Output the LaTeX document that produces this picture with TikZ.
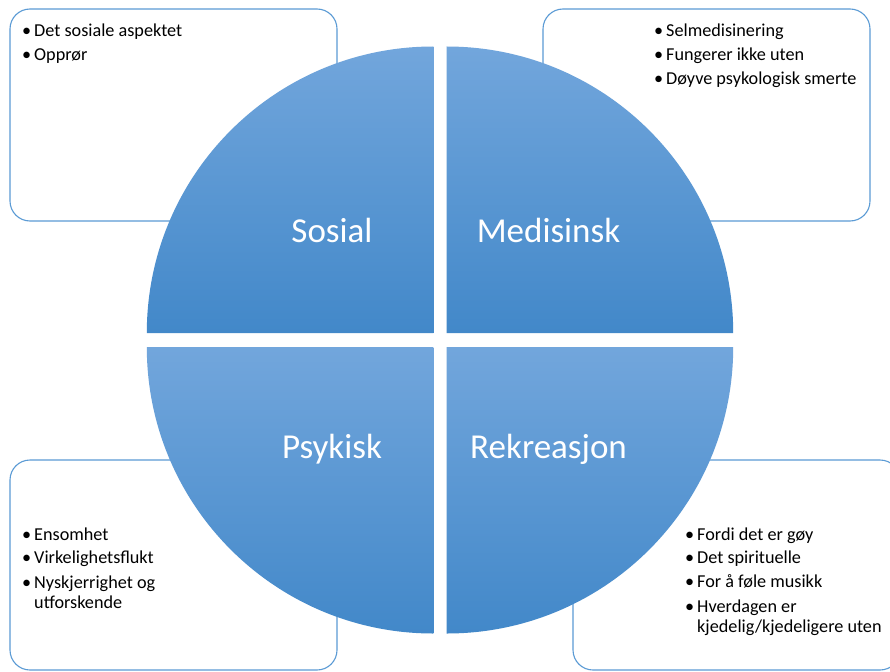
\documentclass[tikz,border=0pt]{standalone}
\usepackage{fontspec}
\setmainfont{Carlito}
\definecolor{qtop}{RGB}{114,166,220}
\definecolor{qmid}{RGB}{87,155,216}
\definecolor{qbot}{RGB}{66,136,201}
\definecolor{boxline}{RGB}{91,155,213}
\tikzset{
  quad/.style={top color=qtop, middle color=qmid, bottom color=qbot, draw=none},
  infobox/.style={draw=boxline, line width=1.1pt, rounded corners=20pt, fill=white},
  qlabel/.style={anchor=base, text=white, font=\fontsize{35}{40}\selectfont, inner sep=0pt},
  bul/.style={anchor=base west, font=\fontsize{18.2}{22}\selectfont, inner sep=0pt},
  itemtext/.style={anchor=base west, font=\fontsize{18.2}{22}\selectfont, inner sep=0pt}
}
\begin{document}
\begin{tikzpicture}[x=1pt,y=-1pt]
\useasboundingbox (0,0) rectangle (890,671);
\fill[white] (0,0) rectangle (890,671);
% boxes
\draw[infobox] (10,9) rectangle (337,221);
\draw[infobox] (543,9) rectangle (870,221);
\draw[infobox] (10,460) rectangle (337,670);
\draw[infobox] (573,460) rectangle (900,670);
% quadrants
\shade[quad] (433.3,333) -- (146.8,333) arc[start angle=180, end angle=270, radius=286.5] -- cycle;
\shade[quad] (446.7,333) -- (446.7,46.5) arc[start angle=270, end angle=360, radius=286.5] -- cycle;
\shade[quad] (433.3,347) -- (146.8,347) arc[start angle=180, end angle=90, radius=286.5] -- cycle;
\shade[quad] (446.7,347) -- (733.2,347) arc[start angle=0, end angle=90, radius=286.5] -- cycle;
% labels
\node[qlabel] (sosial) at (332,242) {Sosial};
\node[qlabel] (medisinsk) at (548.5,242) {Medisinsk};
\node[qlabel] (psykisk) at (332,458) {Psykisk};
\node[qlabel] (rekreasjon) at (548.5,458) {Rekreasjon};
% top-left items
\node[bul] (b1) at (22,37) {•};
\node[itemtext] (t1) at (34,37) {Det sosiale aspektet};
\node[bul] (b2) at (22,61) {•};
\node[itemtext] (t2) at (34,61) {Opprør};
% top-right items
\node[bul] (b3) at (654,37) {•};
\node[itemtext] (t3) at (666,37) {Selmedisinering};
\node[bul] (b4) at (654,61) {•};
\node[itemtext] (t4) at (666,61) {Fungerer ikke uten};
\node[bul] (b5) at (654,85) {•};
\node[itemtext] (t5) at (666,85) {Døyve psykologisk smerte};
% bottom-left items
\node[bul] (b6) at (22,540) {•};
\node[itemtext] (t6) at (34,540) {Ensomhet};
\node[bul] (b7) at (22,563.5) {•};
\node[itemtext] (t7) at (34,563.5) {Virkelighetsflukt};
\node[bul] (b8) at (22,588) {•};
\node[itemtext] (t8) at (34,588) {Nyskjerrighet og};
\node[itemtext] (t8b) at (34,608.5) {utforskende};
% bottom-right items
\node[bul] (b9) at (685,540) {•};
\node[itemtext] (t9) at (697,540) {Fordi det er gøy};
\node[bul] (b10) at (685,563.5) {•};
\node[itemtext] (t10) at (697,563.5) {Det spirituelle};
\node[bul] (b11) at (685,587.5) {•};
\node[itemtext] (t11) at (697,587.5) {For å føle musikk};
\node[bul] (b12) at (685,612) {•};
\node[itemtext] (t12) at (697,612) {Hverdagen er};
\node[itemtext] (t12b) at (697,632) {kjedelig/kjedeligere uten};
\end{tikzpicture}
\end{document}
